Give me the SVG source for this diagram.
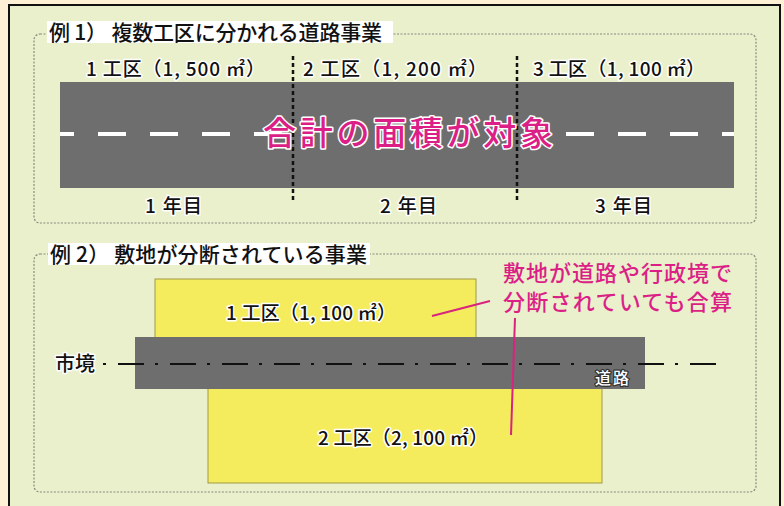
<svg xmlns="http://www.w3.org/2000/svg" width="784" height="506" viewBox="0 0 784 506">
<style>
.t{font-family:"Noto Sans CJK JP","Noto Sans",sans-serif;font-weight:500;fill:#111;stroke:#fff;stroke-width:3;paint-order:stroke;stroke-linejoin:round}
.grp{fill:none;stroke:#8a8a80;stroke-width:1.2;stroke-dasharray:2 1.5}
.road{fill:#6e6e6e}
.yel{fill:#f4ec5c;stroke:#a09a48;stroke-width:1}
.mag{font-family:"Noto Sans CJK JP","Noto Sans",sans-serif;font-weight:500;fill:#dc1f86}
.lead{stroke:#d8237f;stroke-width:2;fill:none}
</style>
<rect x="0" y="0" width="784" height="506" fill="#fef1d6"/>
<rect x="9" y="5" width="771" height="506" fill="#eaf0cc" stroke="#111" stroke-width="2"/>

<g id="example1">
  <rect class="grp" x="34" y="34" width="722" height="189" rx="6"/>
  <rect x="47" y="21" width="346" height="22" fill="#fff"/>
  <text class="t" x="49" y="40" font-size="21" textLength="333" lengthAdjust="spacing" style="stroke:none">例 1） 複数工区に分かれる道路事業</text>
</g>

<g id="road1">
  <rect class="road" x="60" y="82" width="674" height="106"/>
  <path d="M60 134H74M98 134H126M150 134H178M202 134H230M254 134H282M566 134H594M618 134H646M670 134H698M722 134H734" stroke="#fff" stroke-width="4"/>
</g>

<g id="labels1">
  <text class="t" x="86" y="76" font-size="19" textLength="179" lengthAdjust="spacing">1 工区（1, 500 ㎡）</text>
  <text class="t" x="303" y="76" font-size="19" textLength="184" lengthAdjust="spacing">2 工区（1, 200 ㎡）</text>
  <text class="t" x="533" y="76" font-size="19" textLength="172" lengthAdjust="spacing">3 工区（1, 100 ㎡）</text>
  <text class="t" x="145" y="213" font-size="19" textLength="57" lengthAdjust="spacing">1 年目</text>
  <text class="t" x="380" y="213" font-size="19" textLength="57" lengthAdjust="spacing">2 年目</text>
  <text class="t" x="595" y="213" font-size="19" textLength="57" lengthAdjust="spacing">3 年目</text>
</g>

<g id="connectors">
  <line x1="293" y1="56" x2="293" y2="203" stroke="#111" stroke-width="2.5" stroke-dasharray="4 3"/>
  <line x1="517" y1="56" x2="517" y2="203" stroke="#111" stroke-width="2.5" stroke-dasharray="4 3"/>
</g>

<g id="total">
  <text class="mag" x="263" y="145" font-size="33" textLength="290" lengthAdjust="spacing" stroke="#fff" stroke-width="3" paint-order="stroke" stroke-linejoin="round">合計の面積が対象</text>
</g>

<g id="example2">
  <rect class="grp" x="34" y="254" width="722" height="238" rx="6"/>
  <rect x="48" y="243" width="322" height="22" fill="#fff"/>
  <text class="t" x="50" y="262" font-size="21" textLength="317" lengthAdjust="spacing" style="stroke:none">例 2） 敷地が分断されている事業</text>
</g>

<g id="site1">
  <rect class="yel" x="155" y="279" width="321" height="60"/>
  <text class="t" x="226" y="320" font-size="19" textLength="170" lengthAdjust="spacing">1 工区（1, 100 ㎡）</text>
</g>

<g id="site2">
  <rect class="yel" x="208" y="387" width="394" height="96"/>
  <text class="t" x="318" y="445" font-size="19" textLength="170" lengthAdjust="spacing">2 工区（2, 100 ㎡）</text>
</g>

<g id="road2">
  <rect class="road" x="135" y="337" width="510" height="52"/>
  <text x="595" y="384" font-size="16" font-weight="500" textLength="34" lengthAdjust="spacing" font-family="Noto Sans CJK JP, sans-serif" fill="#fff" stroke="#333" stroke-width="2.5" paint-order="stroke" stroke-linejoin="round">道路</text>
</g>

<g id="boundary">
  <text class="t" x="55" y="371" font-size="20" textLength="40" lengthAdjust="spacing">市境</text>
  <line x1="103" y1="364" x2="716" y2="364" stroke="#111" stroke-width="2" stroke-dasharray="3 12 26 11"/>
</g>

<g id="note">
  <text class="mag" x="503" y="281" font-size="22" textLength="229" lengthAdjust="spacing">敷地が道路や行政境で</text>
  <text class="mag" x="503" y="310" font-size="22" textLength="229" lengthAdjust="spacing">分断されていても合算</text>
</g>

<g id="leaders">
  <line class="lead" x1="432" y1="316" x2="490" y2="301"/>
  <line class="lead" x1="515" y1="318" x2="511" y2="435"/>
</g>
</svg>
